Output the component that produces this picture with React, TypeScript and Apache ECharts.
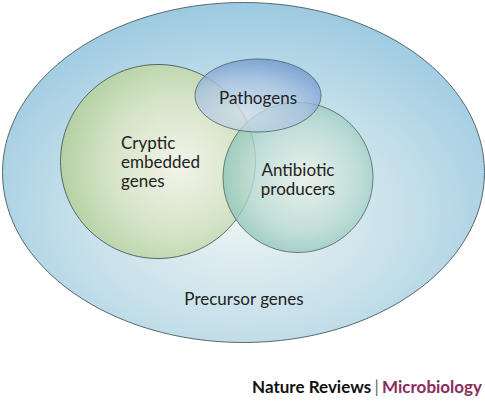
import React, { useEffect, useRef } from "react";
import * as echarts from "echarts";

// Sets of the diagram (in picture units: x right, y down)
const setNames = ["Precursor genes", "Cryptic embedded genes", "Antibiotic producers", "Pathogens"];
const setCx = [243.5, 158, 298, 258];
const setCy = [172.5, 161.5, 177.5, 95.5];
const setRx = [241, 97.5, 75, 63];
const setRy = [170, 97, 75, 36.5];

// Label texts and anchor points
const labelTexts = ["Precursor genes", "Cryptic\nembedded\ngenes", "Antibiotic\nproducers", "Pathogens"];
const labelX = [244, 121, 298, 258];
const labelY = [298, 161, 178.5, 97];
const labelAlign = ["center", "left", "center", "center"];

const footerParts = ["Nature Reviews", "|", "Microbiology"];

const W = 485;
const H = 401;

export default function App() {
  const ref = useRef<HTMLDivElement>(null);
  useEffect(() => {
    const chart = echarts.init(ref.current!, undefined, { renderer: "svg" });
    const fills = [
      new echarts.graphic.RadialGradient(0.5, 0.62, 0.62, [
        { offset: 0, color: "#eef4f3" },
        { offset: 0.55, color: "#c6e0ea" },
        { offset: 1, color: "#9ccae1" },
      ]),
      new echarts.graphic.RadialGradient(0.6, 0.52, 0.6, [
        { offset: 0, color: "#f3f4ea" },
        { offset: 0.6, color: "#d4e3c6" },
        { offset: 1, color: "#b4d1a3" },
      ]),
      new echarts.graphic.RadialGradient(0.55, 0.5, 0.62, [
        { offset: 0, color: "#eef2ea" },
        { offset: 0.6, color: "#b8dad2" },
        { offset: 1, color: "#7ebcaf" },
      ]),
      new echarts.graphic.RadialGradient(0.4, 0.75, 0.75, [
        { offset: 0, color: "#d4e0ea" },
        { offset: 0.6, color: "#a9c2e0" },
        { offset: 1, color: "#7098d0" },
      ]),
    ];
    const opac = [1, 1, 0.8, 0.78];
    const shapeData = setNames.map((n, i) => ({ name: n, value: [setCx[i], setCy[i], setRx[i], setRy[i], i] }));
    const labelData = labelTexts.map((t, i) => ({ name: t, value: [labelX[i], labelY[i], i] }));
    chart.setOption({
      animation: false,
      grid: { left: 0, right: 0, top: 0, bottom: 0 },
      xAxis: { type: "value", min: 0, max: W, show: false },
      yAxis: { type: "value", min: 0, max: H, inverse: true, show: false },
      series: [
        {
          type: "custom",
          coordinateSystem: "cartesian2d",
          data: shapeData,
          renderItem: (params: any, api: any) => {
            const i = api.value(4);
            const c = api.coord([api.value(0), api.value(1)]);
            const s = api.size([api.value(2), api.value(3)]);
            return {
              type: "group",
              children: [
                {
                  type: "ellipse",
                  shape: { cx: c[0], cy: c[1], rx: Math.abs(s[0]), ry: Math.abs(s[1]) },
                  style: { fill: fills[i], opacity: opac[i], stroke: "none" },
                },
                {
                  type: "ellipse",
                  shape: { cx: c[0], cy: c[1], rx: Math.abs(s[0]), ry: Math.abs(s[1]) },
                  style: { fill: "none", stroke: "#4a5a5e", lineWidth: 0.9, opacity: i >= 2 ? 0.85 : 1 },
                },
              ],
            };
          },
        },
        {
          type: "custom",
          coordinateSystem: "cartesian2d",
          data: labelData,
          renderItem: (params: any, api: any) => {
            const i = api.value(2);
            const c = api.coord([api.value(0), api.value(1)]);
            return {
              type: "text",
              x: c[0],
              y: c[1],
              style: {
                text: labelTexts[i],
                fill: "#222222",
                font: "17px Lato",
                align: labelAlign[i],
                verticalAlign: "middle",
                lineHeight: 19,
              },
            };
          },
        },
      ],
      graphic: [
        {
          type: "text",
          right: 3,
          top: 378,
          style: {
            text: `{a|${footerParts[0]}} {b|${footerParts[1]}} {c|${footerParts[2]}}`,
            rich: {
              a: { fill: "#111111", font: "bold 17px Lato" },
              b: { fill: "#666666", font: "17px Lato" },
              c: { fill: "#8a2d5c", font: "bold 17px Lato" },
            },
          },
        },
      ],
    });
    return () => chart.dispose();
  }, []);
  return (
    <div
      ref={ref}
      style={{ position: "fixed", left: 0, top: 0, width: W, height: H, background: "#ffffff" }}
    />
  );
}
